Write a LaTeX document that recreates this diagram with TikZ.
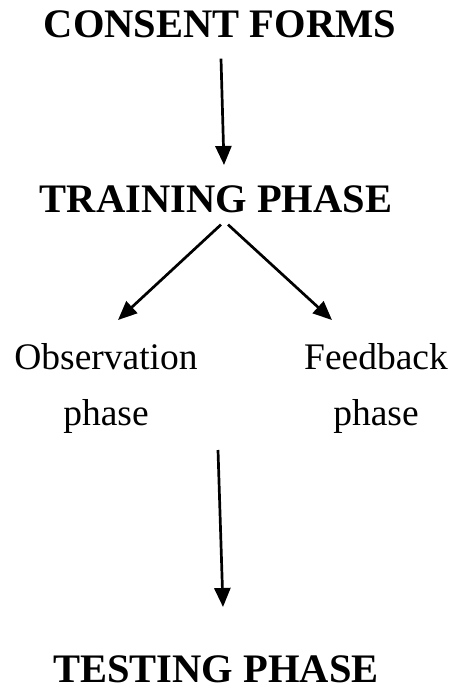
\documentclass[tikz,border=0pt]{standalone}
\usepackage{fontspec}
\setmainfont{Liberation Serif}
\usepackage{tikz}
\usetikzlibrary{arrows.meta, positioning, calc}
\definecolor{flowink}{HTML}{000000}
\tikzset{
  phasehead/.style={inner sep=0pt, anchor=base, text=flowink,
    font=\fontsize{40.5}{48}\selectfont\bfseries},
  subphase/.style={inner sep=0pt, anchor=north, align=center, text=flowink,
    font=\fontsize{37.5}{56}\selectfont},
  flow/.style={-{Triangle[length=19pt, width=16pt]}, draw=flowink, line width=2.7pt}
}
\begin{document}
\begin{tikzpicture}[x=1pt, y=1pt]
\useasboundingbox (0,0) rectangle (457,-691);
\node[phasehead] (consent) at (220,-37) {CONSENT FORMS};
\node[phasehead] (training) at (216,-212) {TRAINING PHASE};
\node[subphase] (observe) at (106,-343) {Observation\\phase};
\node[subphase] (feedback) at (376,-343) {Feedback\\phase};
\node[phasehead] (testing) at (216,-682) {TESTING PHASE};
\coordinate (join) at (218,-450);
\draw[flow] ([xshift=1pt, yshift=-21pt]consent.south) -- ([xshift=8pt, yshift=20pt]training.north);
\draw[flow] ([xshift=5pt, yshift=-12pt]training.south) -- ([xshift=12pt, yshift=23pt]observe.north);
\draw[flow] ([xshift=12pt, yshift=-12pt]training.south) -- ([xshift=-44pt, yshift=23pt]feedback.north);
\draw[flow] (join) -- ([xshift=7pt, yshift=48pt]testing.north);
\end{tikzpicture}
\end{document}
